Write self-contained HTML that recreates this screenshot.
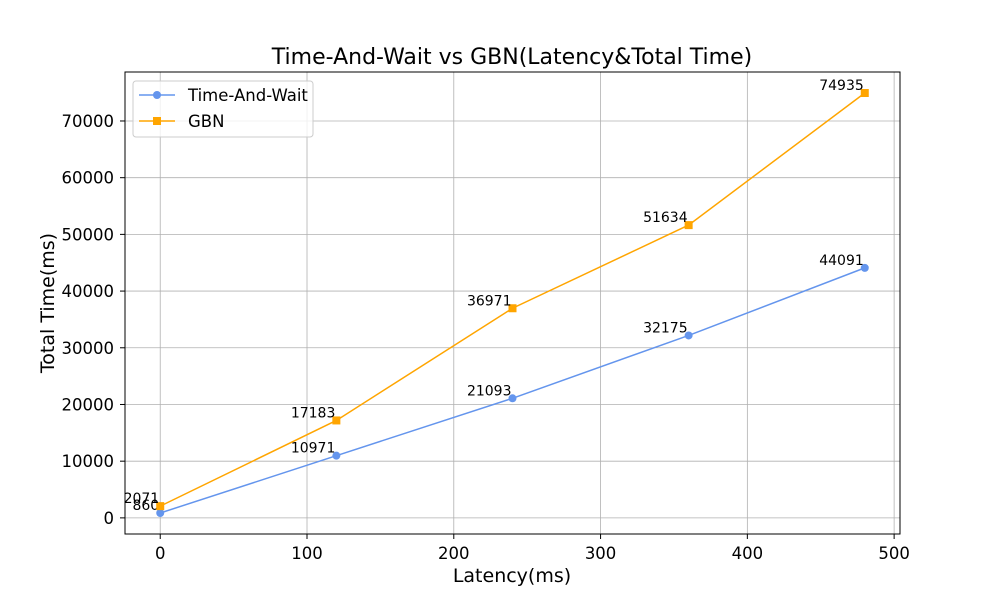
<!DOCTYPE html>
<html><head><meta charset="utf-8"><style>
body{margin:0;background:#fff;}
svg text{font-family:"DejaVu Sans","Liberation Sans",sans-serif;}
</style></head><body>
<svg id="chart" width="1000" height="600" xmlns="http://www.w3.org/2000/svg">
<rect width="1000" height="600" fill="#fff"/>
<g id="grid"></g>
<g id="series"></g>
<rect x="125" y="72" width="775" height="462" fill="none" stroke="#000" stroke-width="1"/>
<g id="ticks"></g>
<text x="512" y="64" font-size="22" text-anchor="middle">Time-And-Wait vs GBN(Latency&amp;Total Time)</text>
<text x="512" y="582" font-size="19" text-anchor="middle">Latency(ms)</text>
<text x="54" y="303" font-size="19" text-anchor="middle" transform="rotate(-90 54 303)">Total Time(ms)</text>
<g>
<rect x="133" y="81" width="180" height="56" fill="#fff" fill-opacity="0.8" stroke="#ccc" rx="3"/>
<g>
<line x1="139" y1="95" x2="175" y2="95" stroke="#6495ED" stroke-width="1.5"/><circle cx="157" cy="95" r="4" fill="#6495ED"/>
<text x="188" y="101" font-size="16.5">Time-And-Wait</text></g>
<g>
<line x1="139" y1="121" x2="175" y2="121" stroke="#FFA500" stroke-width="1.5"/><rect x="153" y="117" width="8" height="8" fill="#FFA500"/>
<text x="188" y="127" font-size="16.5">GBN</text></g>
</g>
</svg>
<script>
const latency=[0,120,240,360,480];
const timeAndWait=[860,10971,21093,32175,44091];
const gbn=[2071,17183,36971,51634,74935];
const xTicks=[0,100,200,300,400,500];
const yTicks=[0,10000,20000,30000,40000,50000,60000,70000];
const L=125,R=900,T=72,B=534;
const xmin=-24,xmax=504,ymin=-2844,ymax=78639;
const sx=v=>L+(v-xmin)/(xmax-xmin)*(R-L);
const sy=v=>B-(v-ymin)/(ymax-ymin)*(B-T);
const NS="http://www.w3.org/2000/svg";
function mk(t,a,p){const e=document.createElementNS(NS,t);for(const k in a)e.setAttribute(k,a[k]);p.appendChild(e);return e;}
const grid=document.getElementById('grid'),ticks=document.getElementById('ticks'),ser=document.getElementById('series');
xTicks.forEach(v=>{const x=sx(v);
const g=mk('line',{x1:x,x2:x,y1:T,y2:B,stroke:'#b0b0b0','stroke-width':0.8},grid);


mk('line',{x1:x,x2:x,y1:B,y2:B+5,stroke:'#000'},ticks);
const t=mk('text',{x:x,y:B+25,'font-size':16.5,'text-anchor':'middle'},ticks);t.textContent=v;

});
yTicks.forEach(v=>{const y=sy(v);
const g=mk('line',{x1:L,x2:R,y1:y,y2:y,stroke:'#b0b0b0','stroke-width':0.8},grid);


mk('line',{x1:L-5,x2:L,y1:y,y2:y,stroke:'#000'},ticks);
const t=mk('text',{x:L-11,y:y+6,'font-size':16.5,'text-anchor':'end'},ticks);t.textContent=v;

});
function draw(vals,color,shape,name){
const pts=latency.map((v,i)=>sx(v)+','+sy(vals[i])).join(' ');
const pl=mk('polyline',{points:pts,fill:'none',stroke:color,'stroke-width':1.5},ser);


latency.forEach((v,i)=>{const x=sx(v),y=sy(vals[i]);let m;
if(shape==='c')m=mk('circle',{cx:x,cy:y,r:4,fill:color},ser);
else m=mk('rect',{x:x-4,y:y-4,width:8,height:8,fill:color},ser);


const t=mk('text',{x:x-1,y:y-3,'font-size':14,'text-anchor':'end'},ser);t.textContent=vals[i];

});}
draw(timeAndWait,'#6495ED','c','time-and-wait');
draw(gbn,'#FFA500','s','gbn');
</script>
</body></html>
